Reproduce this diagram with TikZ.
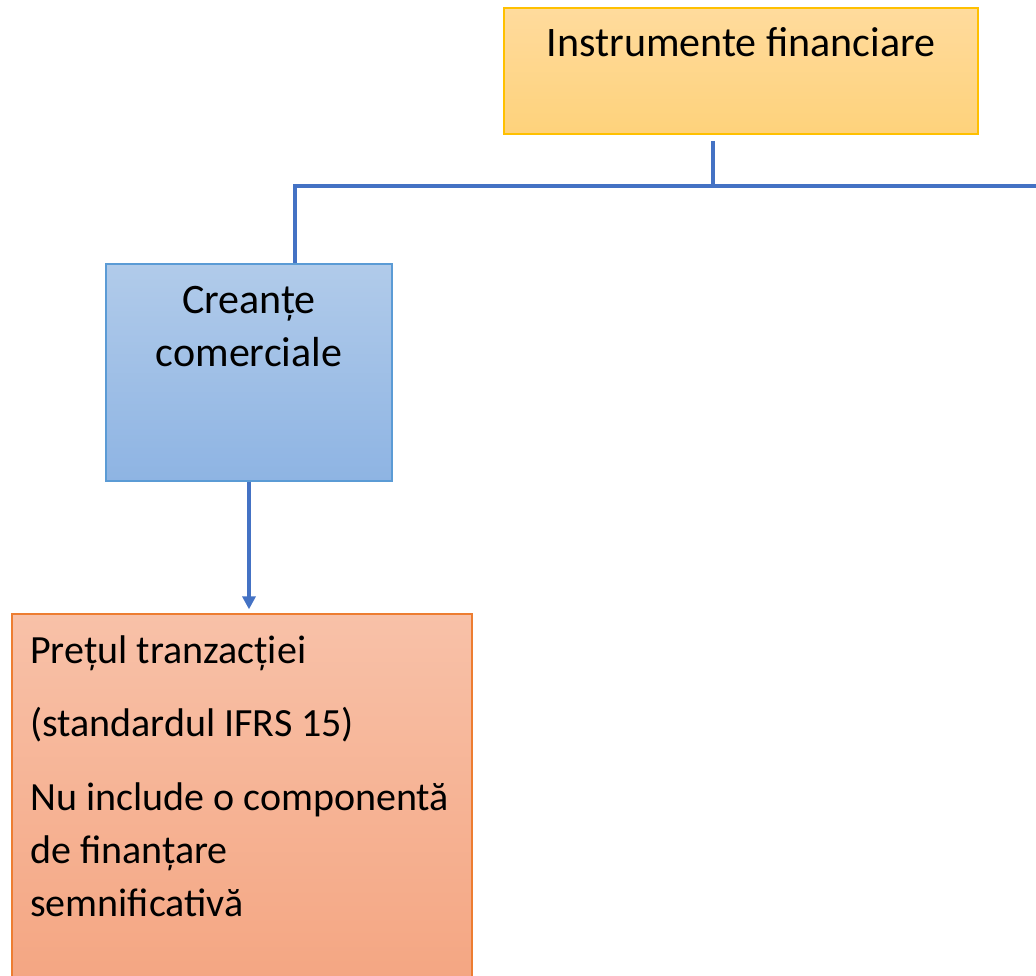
\documentclass[tikz,border=0pt]{standalone}
\usepackage{fontspec}
\setmainfont{Carlito}
\usetikzlibrary{arrows.meta}
\definecolor{yelTop}{HTML}{FFDB9D}
\definecolor{yelBot}{HTML}{FED27B}
\definecolor{yelLine}{HTML}{FFC000}
\definecolor{bluTop}{HTML}{B1CBEA}
\definecolor{bluBot}{HTML}{8EB4E3}
\definecolor{bluLine}{HTML}{5B9BD5}
\definecolor{orTop}{HTML}{F8C1A8}
\definecolor{orBot}{HTML}{F4A581}
\definecolor{orLine}{HTML}{ED7D31}
\definecolor{conCol}{HTML}{4472C4}
\begin{document}
\begin{tikzpicture}[x=1pt, y=-1pt,
  box/.style = {rectangle, inner sep=0pt, line width=1.3pt},
  txt/.style = {inner sep=0pt, font=\fontsize{40}{53}\selectfont},
  big/.style = {font=\fontsize{42}{53}\selectfont},
  conn/.style = {draw=conCol, line width=3.2pt}]
\useasboundingbox (0,0) rectangle (1036,976);
\node (inst) [box, draw=yelLine, top color=yelTop, bottom color=yelBot, minimum width=474pt, minimum height=126pt] at (741,71) {};
\node (cre) [box, draw=bluLine, top color=bluTop, bottom color=bluBot, minimum width=286pt, minimum height=217pt] at (249,372.5) {};
\node (pret) [box, draw=orLine, top color=orTop, bottom color=orBot, minimum width=460pt, minimum height=380pt] at (242,804) {};
\node (t1) [txt, big, anchor=base] at (741,57) {Instrumente financiare};
\node (t2) [txt, big, anchor=north, align=center] at (249,286) {Creanțe\\comerciale};
\node (t3) [txt, anchor=north west, align=left] at (30,636) {Prețul tranzacției\\[20pt](standardul IFRS 15)\\[21pt]Nu include o componentă\\de finanțare\\semnificativă};
\coordinate (c1) at (713,141);
\coordinate (c2) at (295,186);
\coordinate (c3) at (1040,186);
\draw[conn] (c1) -- (c1 |- c2);
\draw[conn] (c3) -- (c2) -- (cre.north -| c2);
\draw[conn, shorten >=4pt, -{Triangle[length=13pt, width=13pt]}] (cre.south) -- (cre.south |- pret.north);
\end{tikzpicture}
\end{document}
